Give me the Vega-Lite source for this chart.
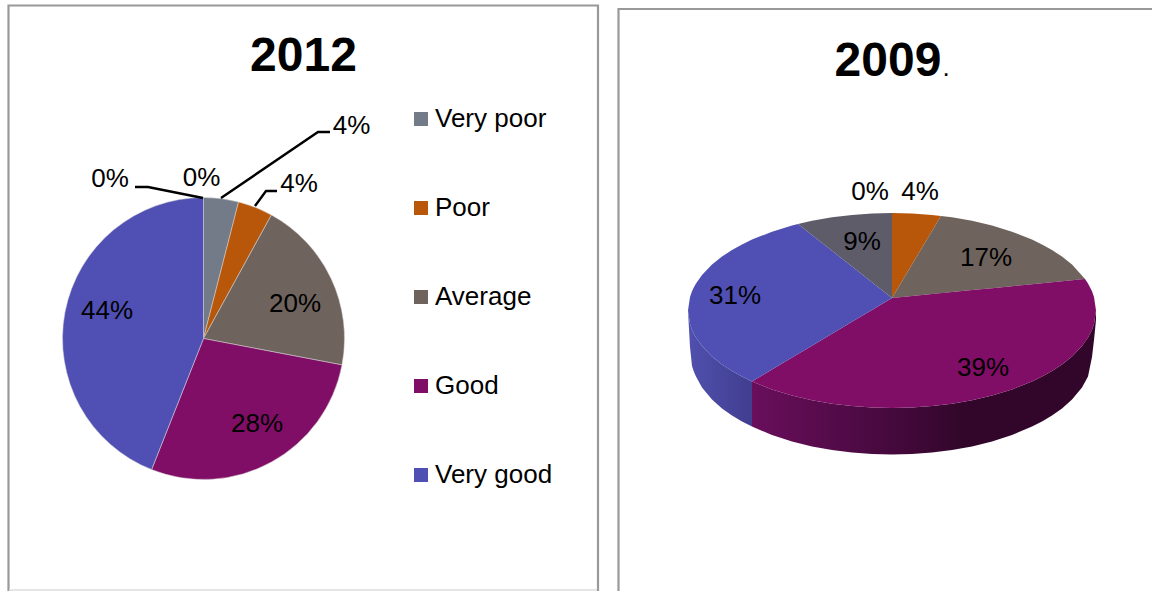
{
  "$schema": "https://vega.github.io/schema/vega-lite/v6.json",
  "width": 1152,
  "height": 591,
  "padding": 0,
  "autosize": {"type": "none"},
  "background": "#ffffff",
  "config": {"view": {"stroke": null}, "text": {"font": "Liberation Sans"}},
  "datasets": {
    "frames": [
      {"panel": "2012", "x": 8.5, "x2": 598, "y": 5.5, "y2": 600},
      {"panel": "2009", "x": 618.5, "x2": 1165, "y": 9, "y2": 600}
    ],
    "frameFoot": [
      {"panel": "2012", "x": 9, "x2": 597, "y": 590}
    ],
    "shares2012": [
      {"rating": "Very poor", "share": 4, "rank": 1},
      {"rating": "Poor", "share": 4, "rank": 2},
      {"rating": "Average", "share": 20, "rank": 3},
      {"rating": "Good", "share": 28, "rank": 4},
      {"rating": "Very good", "share": 44, "rank": 5}
    ],
    "leaders2012": [
      {"leader": "a", "seq": 1, "x": 135, "y": 187},
      {"leader": "a", "seq": 2, "x": 148, "y": 187},
      {"leader": "a", "seq": 3, "x": 203, "y": 198},
      {"leader": "b", "seq": 1, "x": 221, "y": 198},
      {"leader": "b", "seq": 2, "x": 318, "y": 132},
      {"leader": "b", "seq": 3, "x": 330, "y": 132},
      {"leader": "c", "seq": 1, "x": 255, "y": 206},
      {"leader": "c", "seq": 2, "x": 266, "y": 191},
      {"leader": "c", "seq": 3, "x": 277, "y": 191}
    ],
    "wallBlue2009": [
      {"x": 688, "top": 310.5, "bottom": 310.5},
      {"x": 690, "top": 324, "bottom": 347},
      {"x": 692, "top": 329.7, "bottom": 366},
      {"x": 694, "top": 334, "bottom": 372},
      {"x": 696, "top": 337.5, "bottom": 376.4},
      {"x": 702, "top": 346, "bottom": 387.4},
      {"x": 712, "top": 356.4, "bottom": 399.5},
      {"x": 722, "top": 364.4, "bottom": 408.4},
      {"x": 732, "top": 371, "bottom": 415.5},
      {"x": 742, "top": 376.6, "bottom": 421.5},
      {"x": 752, "top": 381.4, "bottom": 426.6}
    ],
    "wallPurple2009": [
      {"x": 752, "top": 381.4, "bottom": 426.6},
      {"x": 772, "top": 389.4, "bottom": 435},
      {"x": 792, "top": 395.5, "bottom": 441.4},
      {"x": 812, "top": 400.2, "bottom": 446.4},
      {"x": 832, "top": 403.7, "bottom": 450},
      {"x": 852, "top": 406.1, "bottom": 452.5},
      {"x": 872, "top": 407.5, "bottom": 454},
      {"x": 892, "top": 408, "bottom": 454.5},
      {"x": 912, "top": 407.5, "bottom": 454},
      {"x": 932, "top": 406.1, "bottom": 452.5},
      {"x": 952, "top": 403.7, "bottom": 450},
      {"x": 972, "top": 400.2, "bottom": 446.4},
      {"x": 992, "top": 395.5, "bottom": 441.4},
      {"x": 1012, "top": 389.4, "bottom": 435},
      {"x": 1032, "top": 381.4, "bottom": 426.6},
      {"x": 1042, "top": 376.6, "bottom": 421.5},
      {"x": 1052, "top": 371, "bottom": 415.5},
      {"x": 1062, "top": 364.4, "bottom": 408.4},
      {"x": 1072, "top": 356.4, "bottom": 399.5},
      {"x": 1082, "top": 346, "bottom": 387.4},
      {"x": 1088, "top": 337.5, "bottom": 376.4},
      {"x": 1092, "top": 329.7, "bottom": 357},
      {"x": 1094, "top": 324.1, "bottom": 340},
      {"x": 1096, "top": 310.5, "bottom": 320}
    ],
    "surface2009": [
      {"rating": "Poor", "x": 892, "top": 213, "bottom": 298},
      {"rating": "Poor", "x": 912, "top": 213.5, "bottom": 264.5},
      {"rating": "Poor", "x": 932, "top": 214.9, "bottom": 231},
      {"rating": "Poor", "x": 941, "top": 215.9, "bottom": 215.9},

      {"rating": "Average", "x": 892, "top": 298, "bottom": 298},
      {"rating": "Average", "x": 912, "top": 264.5, "bottom": 296},
      {"rating": "Average", "x": 932, "top": 231, "bottom": 294},
      {"rating": "Average", "x": 941, "top": 215.9, "bottom": 293.2},
      {"rating": "Average", "x": 952, "top": 217.3, "bottom": 292.1},
      {"rating": "Average", "x": 972, "top": 220.8, "bottom": 290.1},
      {"rating": "Average", "x": 992, "top": 225.5, "bottom": 288.2},
      {"rating": "Average", "x": 1012, "top": 231.7, "bottom": 286.2},
      {"rating": "Average", "x": 1032, "top": 239.6, "bottom": 284.2},
      {"rating": "Average", "x": 1042, "top": 244.4, "bottom": 283.2},
      {"rating": "Average", "x": 1052, "top": 250, "bottom": 282.2},
      {"rating": "Average", "x": 1062, "top": 256.6, "bottom": 281.3},
      {"rating": "Average", "x": 1072, "top": 264.6, "bottom": 280.3},
      {"rating": "Average", "x": 1085, "top": 278.9, "bottom": 278.9},

      {"rating": "Good", "x": 752, "top": 381.4, "bottom": 381.4},
      {"rating": "Good", "x": 772, "top": 369.5, "bottom": 389.4},
      {"rating": "Good", "x": 792, "top": 357.6, "bottom": 395.5},
      {"rating": "Good", "x": 812, "top": 345.7, "bottom": 400.2},
      {"rating": "Good", "x": 832, "top": 333.7, "bottom": 403.7},
      {"rating": "Good", "x": 852, "top": 321.8, "bottom": 406.1},
      {"rating": "Good", "x": 872, "top": 309.9, "bottom": 407.5},
      {"rating": "Good", "x": 892, "top": 298, "bottom": 408},
      {"rating": "Good", "x": 912, "top": 296, "bottom": 407.5},
      {"rating": "Good", "x": 932, "top": 294, "bottom": 406.1},
      {"rating": "Good", "x": 952, "top": 292.1, "bottom": 403.7},
      {"rating": "Good", "x": 972, "top": 290.1, "bottom": 400.2},
      {"rating": "Good", "x": 992, "top": 288.2, "bottom": 395.5},
      {"rating": "Good", "x": 1012, "top": 286.2, "bottom": 389.4},
      {"rating": "Good", "x": 1032, "top": 284.2, "bottom": 381.4},
      {"rating": "Good", "x": 1042, "top": 283.2, "bottom": 376.6},
      {"rating": "Good", "x": 1052, "top": 282.2, "bottom": 371},
      {"rating": "Good", "x": 1062, "top": 281.3, "bottom": 364.4},
      {"rating": "Good", "x": 1072, "top": 280.3, "bottom": 356.4},
      {"rating": "Good", "x": 1082, "top": 279.3, "bottom": 346},
      {"rating": "Good", "x": 1085, "top": 278.9, "bottom": 342.1},
      {"rating": "Good", "x": 1088, "top": 283.5, "bottom": 337.5},
      {"rating": "Good", "x": 1092, "top": 291.3, "bottom": 329.7},
      {"rating": "Good", "x": 1094, "top": 296.9, "bottom": 324.1},
      {"rating": "Good", "x": 1096, "top": 310.5, "bottom": 310.5},

      {"rating": "Very good", "x": 688, "top": 310.5, "bottom": 310.5},
      {"rating": "Very good", "x": 690, "top": 296.9, "bottom": 324},
      {"rating": "Very good", "x": 692, "top": 291.3, "bottom": 329.7},
      {"rating": "Very good", "x": 694, "top": 287, "bottom": 334},
      {"rating": "Very good", "x": 696, "top": 283.5, "bottom": 337.5},
      {"rating": "Very good", "x": 702, "top": 275, "bottom": 346},
      {"rating": "Very good", "x": 712, "top": 264.6, "bottom": 356.4},
      {"rating": "Very good", "x": 722, "top": 256.6, "bottom": 364.4},
      {"rating": "Very good", "x": 732, "top": 250, "bottom": 371},
      {"rating": "Very good", "x": 742, "top": 244.4, "bottom": 376.6},
      {"rating": "Very good", "x": 752, "top": 239.6, "bottom": 381.4},
      {"rating": "Very good", "x": 772, "top": 231.7, "bottom": 369.5},
      {"rating": "Very good", "x": 792, "top": 225.5, "bottom": 357.6},
      {"rating": "Very good", "x": 798, "top": 224, "bottom": 354},
      {"rating": "Very good", "x": 812, "top": 235, "bottom": 345.7},
      {"rating": "Very good", "x": 832, "top": 250.8, "bottom": 333.7},
      {"rating": "Very good", "x": 852, "top": 266.5, "bottom": 321.8},
      {"rating": "Very good", "x": 872, "top": 282.3, "bottom": 309.9},
      {"rating": "Very good", "x": 892, "top": 298, "bottom": 298},

      {"rating": "Unlabelled", "x": 798, "top": 224, "bottom": 224},
      {"rating": "Unlabelled", "x": 812, "top": 220.8, "bottom": 235},
      {"rating": "Unlabelled", "x": 832, "top": 217.3, "bottom": 250.8},
      {"rating": "Unlabelled", "x": 852, "top": 214.9, "bottom": 266.5},
      {"rating": "Unlabelled", "x": 872, "top": 213.5, "bottom": 282.3},
      {"rating": "Unlabelled", "x": 892, "top": 213, "bottom": 298}
    ],
    "shareLabels": [
      {"text": "0%", "x": 110, "y": 178},
      {"text": "0%", "x": 201.5, "y": 177},
      {"text": "4%", "x": 351.5, "y": 125},
      {"text": "4%", "x": 299, "y": 183},
      {"text": "20%", "x": 295, "y": 303},
      {"text": "28%", "x": 257, "y": 423},
      {"text": "44%", "x": 107, "y": 310},
      {"text": "0%", "x": 870, "y": 191},
      {"text": "4%", "x": 920, "y": 191},
      {"text": "9%", "x": 862, "y": 241},
      {"text": "17%", "x": 986, "y": 257},
      {"text": "31%", "x": 735, "y": 295},
      {"text": "39%", "x": 983, "y": 367}
    ],
    "headings": [
      {"text": "2012", "x": 303.5, "y": 71},
      {"text": "2009", "x": 888, "y": 76}
    ],
    "headingStop": [
      {"text": ".", "x": 946, "y": 76}
    ]
  },
  "layer": [
    {
      "data": {"name": "frames"},
      "mark": {"type": "rect", "filled": false, "stroke": "#999999", "strokeWidth": 2.2},
      "encoding": {
        "x": {"field": "x", "type": "quantitative", "scale": {"domain": [0, 1152], "nice": false, "zero": false}, "axis": null},
        "x2": {"field": "x2"},
        "y": {"field": "y", "type": "quantitative", "scale": {"domain": [0, 591], "reverse": true, "nice": false, "zero": false}, "axis": null},
        "y2": {"field": "y2"}
      }
    },
    {
      "data": {"name": "frameFoot"},
      "mark": {"type": "rule", "stroke": "#dddddd", "strokeWidth": 1.5},
      "encoding": {
        "x": {"field": "x", "type": "quantitative"},
        "x2": {"field": "x2"},
        "y": {"field": "y", "type": "quantitative"}
      }
    },
    {
      "data": {"name": "shares2012"},
      "mark": {"type": "arc", "outerRadius": 141, "stroke": "#d8d8d8", "strokeWidth": 0.5},
      "encoding": {
        "theta": {"field": "share", "type": "quantitative", "stack": true, "scale": {"domain": [0, 100], "range": [0, 6.283185]}},
        "order": {"field": "rank", "type": "ordinal"},
        "x": {"datum": 203.5, "type": "quantitative"},
        "y": {"datum": 338.5, "type": "quantitative"},
        "color": {
          "field": "rating",
          "type": "nominal",
          "scale": {
            "domain": ["Very poor", "Poor", "Average", "Good", "Very good", "Unlabelled"],
            "range": ["#727B87", "#B8560A", "#6F645D", "#800E66", "#5050B4", "#5F5C6A"]
          },
          "legend": {
            "values": ["Very poor", "Poor", "Average", "Good", "Very good"],
            "title": null,
            "orient": "none",
            "legendX": 408,
            "legendY": 106,
            "padding": 0,
            "symbolType": "square",
            "symbolSize": 196,
            "symbolStrokeWidth": 0,
            "symbolOpacity": 1,
            "labelFont": "Liberation Sans",
            "labelFontSize": 26,
            "labelColor": "#000000",
            "labelOffset": 1,
            "labelLimit": 300,
            "rowPadding": 63
          }
        }
      }
    },
    {
      "data": {"name": "leaders2012"},
      "mark": {"type": "line", "stroke": "#000000", "strokeWidth": 2.4, "interpolate": "linear"},
      "encoding": {
        "x": {"field": "x", "type": "quantitative"},
        "y": {"field": "y", "type": "quantitative"},
        "detail": {"field": "leader"},
        "order": {"field": "seq", "type": "quantitative"}
      }
    },
    {
      "data": {"name": "wallBlue2009"},
      "mark": {
        "type": "area",
        "orient": "vertical",
        "fill": {"gradient": "linear", "x1": 0, "x2": 1, "y1": 0, "y2": 0, "stops": [
          {"offset": 0, "color": "#5050AE"},
          {"offset": 1, "color": "#413E90"}
        ]}
      },
      "encoding": {
        "x": {"field": "x", "type": "quantitative"},
        "y": {"field": "top", "type": "quantitative"},
        "y2": {"field": "bottom"}
      }
    },
    {
      "data": {"name": "wallPurple2009"},
      "mark": {
        "type": "area",
        "orient": "vertical",
        "fill": {"gradient": "linear", "x1": 0, "x2": 1, "y1": 0, "y2": 0, "stops": [
          {"offset": 0, "color": "#690E5C"},
          {"offset": 0.41, "color": "#45093C"},
          {"offset": 0.62, "color": "#31062A"},
          {"offset": 1, "color": "#31062A"}
        ]}
      },
      "encoding": {
        "x": {"field": "x", "type": "quantitative"},
        "y": {"field": "top", "type": "quantitative"},
        "y2": {"field": "bottom"}
      }
    },
    {
      "data": {"name": "surface2009"},
      "mark": {"type": "area", "orient": "vertical"},
      "encoding": {
        "x": {"field": "x", "type": "quantitative"},
        "y": {"field": "top", "type": "quantitative"},
        "y2": {"field": "bottom"},
        "color": {"field": "rating", "type": "nominal", "legend": null}
      }
    },
    {
      "data": {"name": "shareLabels"},
      "mark": {"type": "text", "font": "Liberation Sans", "fontSize": 26, "color": "#000000", "align": "center", "baseline": "alphabetic", "dy": 9},
      "encoding": {
        "x": {"field": "x", "type": "quantitative"},
        "y": {"field": "y", "type": "quantitative"},
        "text": {"field": "text"}
      }
    },
    {
      "data": {"name": "headings"},
      "mark": {"type": "text", "font": "Liberation Sans", "fontSize": 48, "fontWeight": "bold", "color": "#000000", "align": "center", "baseline": "alphabetic"},
      "encoding": {
        "x": {"field": "x", "type": "quantitative"},
        "y": {"field": "y", "type": "quantitative"},
        "text": {"field": "text"}
      }
    },
    {
      "data": {"name": "headingStop"},
      "mark": {"type": "text", "font": "Liberation Sans", "fontSize": 26, "color": "#000000", "align": "center", "baseline": "alphabetic"},
      "encoding": {
        "x": {"field": "x", "type": "quantitative"},
        "y": {"field": "y", "type": "quantitative"},
        "text": {"field": "text"}
      }
    }
  ]
}
